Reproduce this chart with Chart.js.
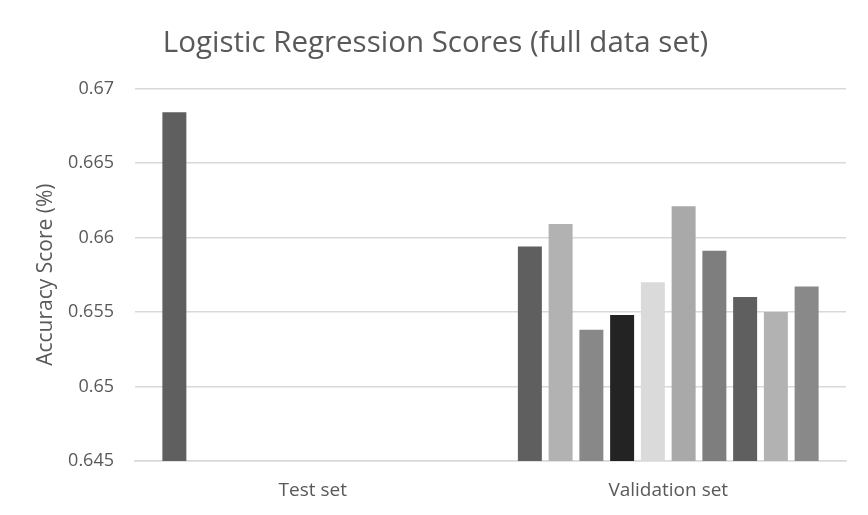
<!DOCTYPE html>
<html>
<head>
<meta charset="utf-8">
<title>Logistic Regression Scores</title>
<script src="https://cdn.jsdelivr.net/npm/chart.js"></script>
<style>
  html, body { margin: 0; padding: 0; background: #fff; }
  #wrap { width: 868px; height: 515px; }
</style>
</head>
<body>
<div id="wrap"><canvas id="scoreChart" width="868" height="515"></canvas></div>
<script>
// chart data
var categories = ['Test set', 'Validation set'];
var testScores = [0.6684];
var validationScores = [0.6594, 0.6609, 0.6538, 0.6548, 0.6570, 0.6621, 0.6591, 0.6560, 0.6550, 0.6567];
var yTicks = [0.645, 0.65, 0.655, 0.66, 0.665, 0.67];

// greys used by the original monochrome palette
var barColors = ['#5f5f5f', '#b2b2b2', '#888888', '#232323', '#dadada', '#a9a9a9', '#7e7e7e', '#5f5f5f', '#b2b2b2', '#898989'];

var textColor = '#595959';
var fontFamily = '"Open Sans", "Noto Sans", sans-serif';

// one dataset per run; only the first one has a test set value
var datasets = validationScores.map(function (v, i) {
    return {
        label: 'Run ' + (i + 1),
        data: [i === 0 ? testScores[0] : null, v],
        backgroundColor: barColors[i],
        borderWidth: 0,
        categoryPercentage: 0.865,
        barPercentage: 0.78
    };
});

// center the title over the whole canvas, not the padded box
var titleCenter = {
    id: 'titleCenter',
    afterLayout: function (chart) {
        if (chart.titleBlock) {
            chart.titleBlock.left = 3;
            chart.titleBlock.right = chart.width;
        }
    }
};

new Chart(document.getElementById('scoreChart'), {
    type: 'bar',
    data: {
        labels: categories,
        datasets: datasets
    },
    plugins: [titleCenter],
    options: {
        responsive: false,
        animation: false,
        layout: {
            padding: { left: 0, right: 22, top: 0, bottom: 0 }
        },
        plugins: {
            legend: { display: false },
            tooltip: { enabled: false },
            title: {
                display: true,
                text: 'Logistic Regression Scores (full data set)',
                color: textColor,
                font: { family: fontFamily, size: 29.5, weight: 'normal' },
                padding: { top: 26, bottom: 27 }
            }
        },
        scales: {
            x: {
                grid: { display: false, drawTicks: false },
                border: { display: true, color: '#d9d9d9', width: 1.5 },
                ticks: {
                    color: textColor,
                    font: { family: fontFamily, size: 19 },
                    padding: 18
                },
                afterFit: function (scale) { scale.height = 54; }
            },
            y: {
                min: yTicks[0],
                max: yTicks[yTicks.length - 1],
                grid: { color: '#d9d9d9', lineWidth: 1.5, drawTicks: false },
                border: { display: false },
                ticks: {
                    stepSize: 0.005,
                    color: textColor,
                    font: { family: fontFamily, size: 18 },
                    padding: 21,
                    callback: function (value) {
                        return String(parseFloat(value.toFixed(3)));
                    }
                },
                title: {
                    display: true,
                    text: 'Accuracy Score (%)',
                    color: textColor,
                    font: { family: fontFamily, size: 21 },
                    padding: { top: 33, bottom: 0 }
                },
                afterFit: function (scale) { scale.width = 135; }
            }
        }
    }
});
</script>
</body>
</html>
